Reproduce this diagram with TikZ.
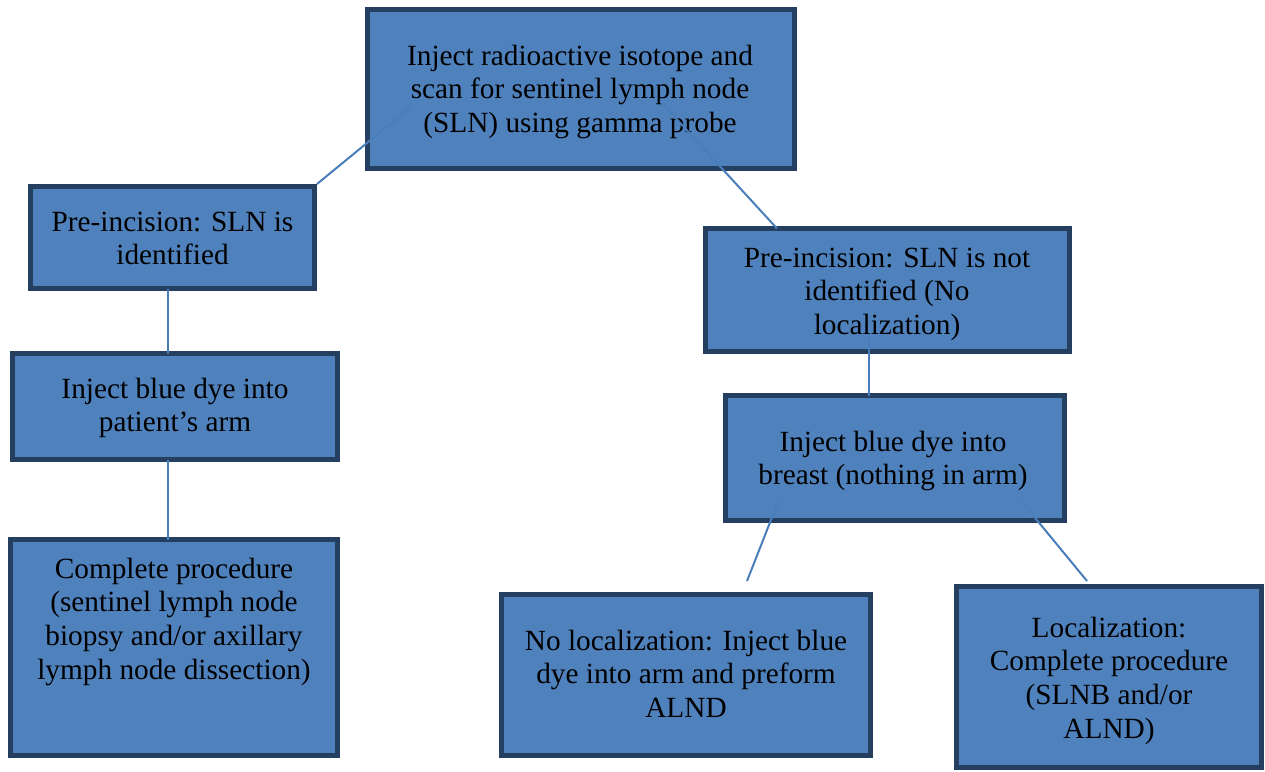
\documentclass[tikz,border=0pt]{standalone}
\usepackage{fontspec}
\setmainfont{Liberation Serif}
\definecolor{boxfill}{HTML}{4F81BD}
\definecolor{boxdraw}{HTML}{243F60}
\definecolor{linkcol}{HTML}{4A7EBB}
\tikzset{
  box/.style={rectangle, draw=boxdraw, fill=boxfill, line width=5pt, inner sep=0pt},
  txt/.style={anchor=base, inner sep=0pt, font=\fontsize{29.3}{33.8}\selectfont},
  link/.style={draw=linkcol, line width=2pt}
}
\newcommand{\lines}[1]{\setlength{\tabcolsep}{0pt}\begin{tabular}[t]{c}#1\end{tabular}}
\begin{document}
\begin{tikzpicture}[x=1pt,y=-1pt]
\useasboundingbox (0,0) rectangle (1265,771);
% boxes
\node[box, minimum width=427, minimum height=159] (b1) at (581,89) {};
\node[box, minimum width=284, minimum height=102] (b2) at (172.5,237.5) {};
\node[box, minimum width=325, minimum height=106] (b3) at (175,406.5) {};
\node[box, minimum width=327, minimum height=216] (b4) at (174,647.5) {};
\node[box, minimum width=364, minimum height=123] (b5) at (887.5,290) {};
\node[box, minimum width=339, minimum height=125] (b6) at (895,458) {};
\node[box, minimum width=369, minimum height=161] (b7) at (686,675) {};
\node[box, minimum width=305, minimum height=181] (b8) at (1109,677) {};
% texts
\node[txt] (t1) at (580,65) {\lines{Inject radioactive isotope and\\scan for sentinel lymph node\\(SLN) using gamma probe}};
\node[txt] (t2) at (172.5,231) {\lines{Pre-incision: SLN is\\identified}};
\node[txt] (t3) at (175,398) {\lines{Inject blue dye into\\patient’s arm}};
\node[txt] (t4) at (174,578) {\lines{Complete procedure\\(sentinel lymph node\\biopsy and/or axillary\\lymph node dissection)}};
\node[txt] (t5) at (887,267) {\lines{Pre-incision: SLN is not\\identified (No\\localization)}};
\node[txt] (t6) at (893,451) {\lines{Inject blue dye into\\breast (nothing in arm)}};
\node[txt] (t7) at (686,650) {\lines{No localization: Inject blue\\dye into arm and preform\\ALND}};
\node[txt] (t8) at (1109,637) {\lines{Localization:\\Complete procedure\\(SLNB and/or\\ALND)}};
% connector end points
\coordinate (c1) at (412,106);
\coordinate (c2) at (660,101);
\coordinate (c2e) at (777,228.5);
\coordinate (c3a) at (168,288.5);
\coordinate (c3b) at (168,353.5);
\coordinate (c4a) at (168,459.5);
\coordinate (c4b) at (168,539.5);
\coordinate (c5a) at (869,335);
\coordinate (c5b) at (869,395.5);
\coordinate (c6a) at (778,502);
\coordinate (c6b) at (747,581);
\coordinate (c7a) at (1022,502);
\coordinate (c7b) at (1087,581);
% connectors
\draw[link] (c1) -- (b2.north east);
\draw[link] (c2) -- (c2e);
\draw[link] (c3a) -- (c3b);
\draw[link] (c4a) -- (c4b);
\draw[link] (c5a) -- (c5b);
\draw[link] (c6a) -- (c6b);
\draw[link] (c7a) -- (c7b);
\end{tikzpicture}
\end{document}
